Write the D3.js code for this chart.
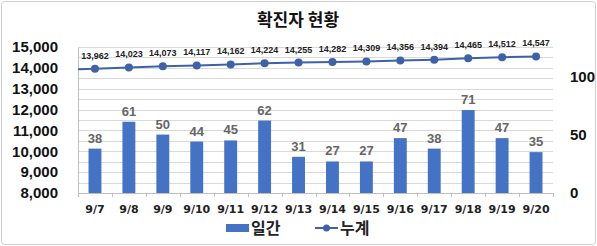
<!DOCTYPE html>
<html><head><meta charset="utf-8">
<script src="https://cdn.jsdelivr.net/npm/d3@7"></script>
<style>
html,body{margin:0;padding:0;background:#fff;}
svg{display:block;font-family:"Malgun Gothic","Noto Sans CJK KR","Noto Sans",sans-serif;}
</style></head>
<body><svg id="c" width="597" height="246"></svg>
<script>
const categories = ["9/7","9/8","9/9","9/10","9/11","9/12","9/13","9/14","9/15","9/16","9/17","9/18","9/19","9/20"];
const daily = [38,61,50,44,45,62,31,27,27,47,38,71,47,35];
const cumulative = [13962,14023,14073,14117,14162,14224,14255,14282,14309,14356,14394,14465,14512,14547];
const leftTicks = [8000,9000,10000,11000,12000,13000,14000,15000];
const rightTicks = [0,50,100];
const gridTicks = d3.range(8000,15001,500);
const title = "확진자 현황";
const seriesNames = ["일간","누계"];

const svg = d3.select("#c");
const L = 78, R = 553, T = 47, B = 193;
const barColor = "#4472C4", lineColor = "#3D62A8";

svg.append("rect").attr("x",1.5).attr("y",1.5).attr("width",594).attr("height",243)
  .attr("rx",3).attr("fill","#fff").attr("stroke","#d0d0d0");

const x = d3.scaleBand().domain(categories).range([L,R]).paddingInner(0.62).paddingOuter(0.31);
const yL = d3.scaleLinear().domain([8000,15000]).range([B,T]);
const yR = d3.scaleLinear().domain([0,125]).range([B,T]);

// grid
svg.append("g").selectAll("line").data(gridTicks.filter(d=>d>8000)).join("line")
  .attr("x1",L).attr("x2",R).attr("y1",d=>Math.round(yL(d))+0.5).attr("y2",d=>Math.round(yL(d))+0.5)
  .attr("stroke","#d9d9d9").attr("stroke-width",1);

// left axis
const gl = svg.append("g").attr("transform",`translate(${L},0)`)
  .call(d3.axisLeft(yL).tickValues(leftTicks).tickFormat(d3.format(",")).tickSize(0).tickPadding(20));
gl.select(".domain").attr("stroke","#bfbfbf");
gl.selectAll("text").attr("font-size",15).attr("font-weight","bold").attr("fill","#111")
  .attr("font-family","'Liberation Sans',Arial,sans-serif");

// right axis
const gr = svg.append("g").attr("transform",`translate(${R},0)`)
  .call(d3.axisRight(yR).tickValues(rightTicks).tickSize(0).tickPadding(17));
gr.select(".domain").remove();
gr.selectAll("text").attr("font-size",15).attr("font-weight","bold").attr("fill","#111")
  .attr("font-family","'Liberation Sans',Arial,sans-serif");

// bottom axis
const step = x.step();
const gb = svg.append("g").attr("transform",`translate(0,${B})`)
  .call(d3.axisBottom(x).tickSize(0).tickPadding(12));
gb.select(".domain").attr("stroke","#bfbfbf");
gb.selectAll("text").attr("font-size",11).attr("font-weight","bold").attr("fill","#222")
  .attr("font-family","'DejaVu Sans',sans-serif");
svg.append("g").selectAll("line").data(d3.range(categories.length+1)).join("line")
  .attr("x1",i=>Math.round(L+i*step)+0.5).attr("x2",i=>Math.round(L+i*step)+0.5)
  .attr("y1",B).attr("y2",B+4).attr("stroke","#bfbfbf");

// bars
svg.append("g").selectAll("rect").data(daily).join("rect")
  .attr("x",(d,i)=>x(categories[i])).attr("width",x.bandwidth())
  .attr("y",d=>yR(d)).attr("height",d=>B-yR(d)).attr("fill",barColor);
svg.append("g").selectAll("text").data(daily).join("text")
  .attr("x",(d,i)=>x(categories[i])+x.bandwidth()/2).attr("y",d=>yR(d)-6)
  .attr("text-anchor","middle").attr("font-size",13).attr("font-weight","bold").attr("fill","#666")
  .attr("font-family","'Liberation Sans',Arial,sans-serif")
  .text(d=>d);

// line
const cx = (i)=>x(categories[i])+x.bandwidth()/2;
const line = d3.line().x((d,i)=>cx(i)).y(d=>yL(d));
const ext = d3.line()([[L, yL(cumulative[0]) + (yL(cumulative[0])-yL(cumulative[1]))*((cx(0)-L)/step)],[cx(0),yL(cumulative[0])]]);
svg.append("path").attr("d",ext).attr("stroke",lineColor).attr("stroke-width",2).attr("fill","none");
svg.append("path").datum(cumulative).attr("d",line).attr("stroke",lineColor).attr("stroke-width",2).attr("fill","none");
svg.append("g").selectAll("circle").data(cumulative).join("circle")
  .attr("cx",(d,i)=>cx(i)).attr("cy",d=>yL(d)).attr("r",4).attr("fill",lineColor);
svg.append("g").selectAll("text").data(cumulative).join("text")
  .attr("x",(d,i)=>cx(i)).attr("y",d=>yL(d)-10)
  .attr("text-anchor","middle").attr("font-size",9).attr("font-weight","bold").attr("fill","#222")
  .attr("font-family","'Liberation Sans',Arial,sans-serif")
  .text(d=>d3.format(",")(d));

// title
svg.append("text").attr("x",298).attr("y",26).attr("text-anchor","middle")
  .attr("font-size",17).attr("font-weight","bold").attr("fill","#111").text(title);

// legend
const lg = svg.append("g");
lg.append("rect").attr("x",226).attr("y",224).attr("width",23).attr("height",8).attr("fill",barColor);
lg.append("text").attr("x",251).attr("y",234).attr("font-size",16).attr("font-weight","bold").attr("fill","#222").text(seriesNames[0]);
lg.append("line").attr("x1",315).attr("x2",338).attr("y1",228).attr("y2",228).attr("stroke",lineColor).attr("stroke-width",2);
lg.append("circle").attr("cx",326.5).attr("cy",228).attr("r",3.5).attr("fill",lineColor);
lg.append("text").attr("x",340).attr("y",234).attr("font-size",16).attr("font-weight","bold").attr("fill","#222").text(seriesNames[1]);
</script></body></html>
